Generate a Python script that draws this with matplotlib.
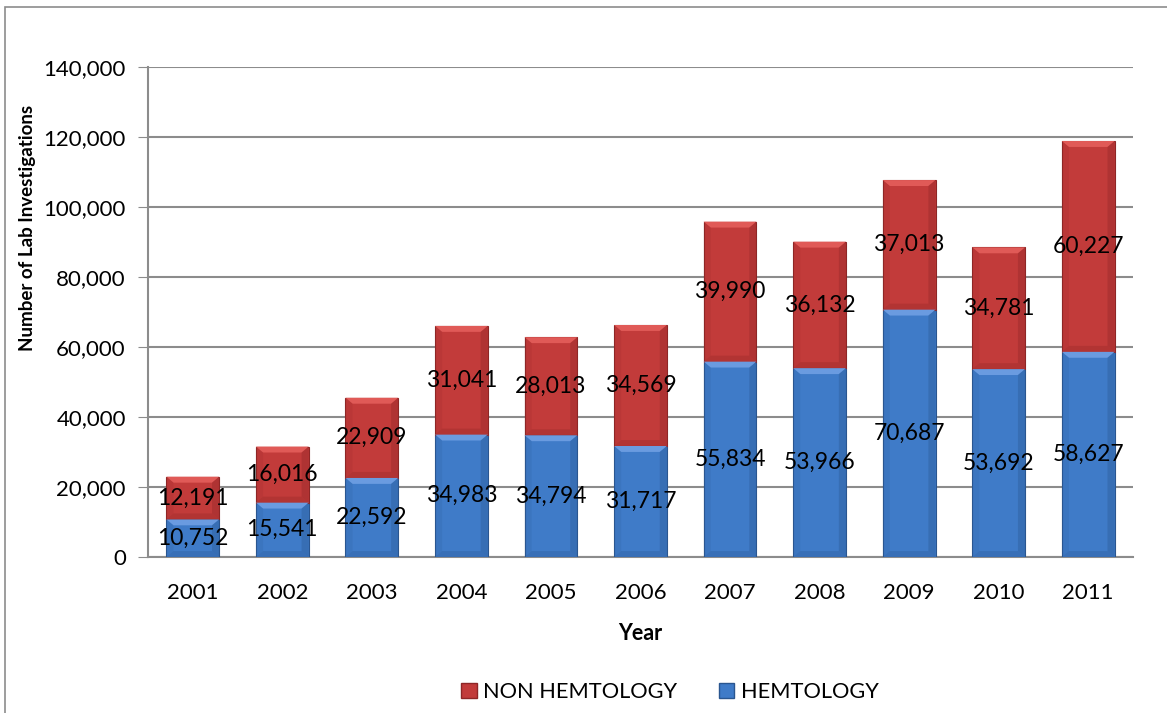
import matplotlib.pyplot as plt
from matplotlib.patches import Rectangle, Polygon
import numpy as np

plt.rcParams['font.family'] = ['Lato', 'DejaVu Sans']

years = ['2001', '2002', '2003', '2004', '2005', '2006',
         '2007', '2008', '2009', '2010', '2011']
hemtology = [10752, 15541, 22592, 34983, 34794, 31717,
             55834, 53966, 70687, 53692, 58627]
non_hemtology = [12191, 16016, 22909, 31041, 28013, 34569,
                 39990, 36132, 37013, 34781, 60227]

RED = '#c23b3a'
RED_TOP = '#e05a57'
RED_DARK = '#8e2626'
BLUE = '#3f7bc8'
BLUE_TOP = '#6a9be0'
BLUE_DARK = '#2a5690'
GRID = '#8c8c8c'


def bevel_bars(ax, x, bottoms, heights, width, face, top, dark):
    ax.bar(x, heights, width, bottom=bottoms, color=face, edgecolor=dark,
           linewidth=0.8, zorder=3)
    dx = 0.08
    dy = 1700
    for xi, b, h in zip(x, bottoms, heights):
        l, r = xi - width / 2, xi + width / 2
        t = b + h
        ax.add_patch(Polygon([(l, t), (r, t), (r - dx, t - dy), (l + dx, t - dy)],
                             closed=True, color=top, lw=0, zorder=4))
        ax.add_patch(Polygon([(r, t), (r, b), (r - dx, b + dy), (r - dx, t - dy)],
                             closed=True, color=dark, alpha=0.35, lw=0, zorder=4))
        ax.add_patch(Polygon([(l, t), (l, b), (l + dx, b + dy), (l + dx, t - dy)],
                             closed=True, color=dark, alpha=0.15, lw=0, zorder=4))
        ax.add_patch(Polygon([(l, b), (r, b), (r - dx, b + dy), (l + dx, b + dy)],
                             closed=True, color=dark, alpha=0.3, lw=0, zorder=4))


fig = plt.figure(figsize=(11.67, 7.13), dpi=100)
fig.patches.append(Rectangle((5 / 1167, -0.05), 1.1, 1 - 7 / 713 + 0.05,
                             transform=fig.transFigure, fill=False,
                             edgecolor='#8c8c8c', linewidth=1.2))

ax = fig.add_axes([148 / 1167, 1 - 557 / 713, (1133 - 148) / 1167, (557 - 67) / 713])

x = np.arange(len(years))
width = 0.59
hem = np.array(hemtology)
non = np.array(non_hemtology)

bevel_bars(ax, x, np.zeros(len(x)), hem, width, BLUE, BLUE_TOP, BLUE_DARK)
bevel_bars(ax, x, hem, non, width, RED, RED_TOP, RED_DARK)

for xi, h, n in zip(x, hem, non):
    ax.text(xi, h / 2, f'{h:,}', ha='center', va='center', fontsize=16.5, zorder=6)
    ax.text(xi, h + n / 2, f'{n:,}', ha='center', va='center', fontsize=16.5, zorder=6)

ax.set_xlim(-0.5, len(years) - 0.5)
ax.set_ylim(0, 140000)
ax.set_yticks(np.arange(0, 140001, 20000))
ax.yaxis.set_major_formatter(plt.FuncFormatter(lambda v, p: f'{int(v):,}'))
ax.set_xticks(x)
ax.set_xticklabels(years)
ax.tick_params(axis='x', length=0, labelsize=16, pad=19)
ax.tick_params(axis='y', length=7, color=GRID, labelsize=16, pad=9)
ax.grid(axis='y', color=GRID, linewidth=1.5, zorder=0)
ax.set_axisbelow(True)
for s in ['top', 'right']:
    ax.spines[s].set_visible(False)
for s in ['left', 'bottom']:
    ax.spines[s].set_color(GRID)
    ax.spines[s].set_linewidth(1.5)

ax.set_xlabel('Year', fontsize=15.5, fontweight='bold', labelpad=14)
fig.text(28 / 1167, 1 - 228 / 713, 'Number of Lab Investigations', rotation=90,
         ha='center', va='center', fontsize=13.5, fontweight='bold')

handles = [Rectangle((0, 0), 1, 1, facecolor=RED, edgecolor=RED_DARK),
           Rectangle((0, 0), 1, 1, facecolor=BLUE, edgecolor=BLUE_DARK)]
fig.legend(handles, ['NON HEMTOLOGY', 'HEMTOLOGY'], loc='center',
           bbox_to_anchor=(0.574, 1 - 692 / 713), ncol=2, frameon=False,
           fontsize=15.7, handlelength=0.7, handleheight=0.7, handletextpad=0.3,
           columnspacing=1.9)

fig.savefig('out.png', dpi=100)
